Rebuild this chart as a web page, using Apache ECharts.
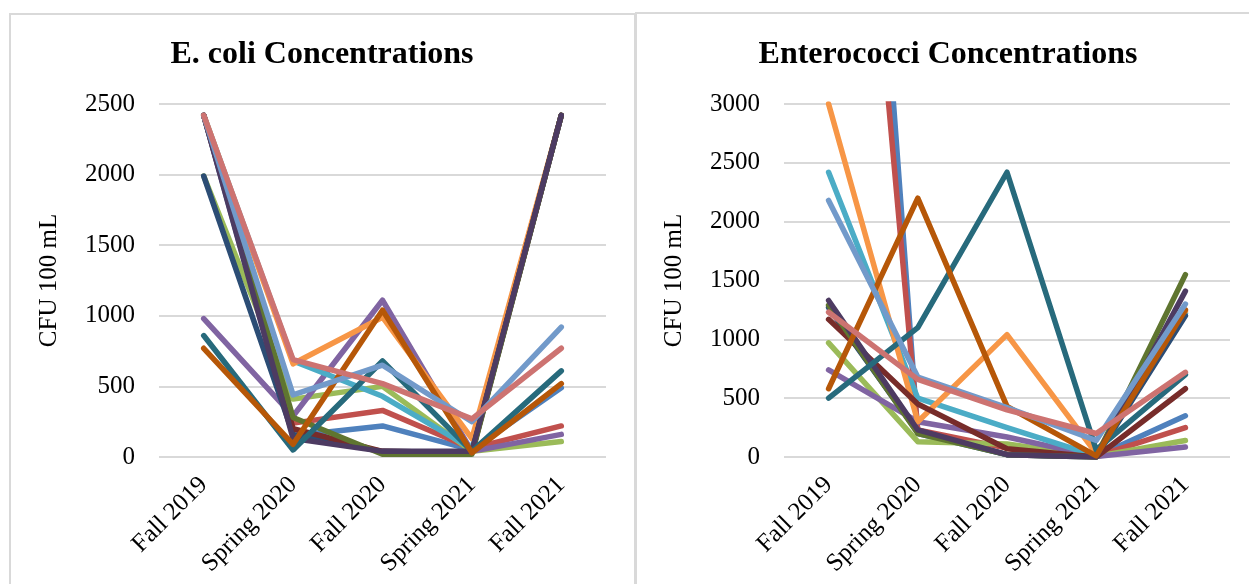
<!DOCTYPE html>
<html>
<head>
<meta charset="utf-8">
<script src="https://cdn.jsdelivr.net/npm/echarts@6/dist/echarts.min.js"></script>
<style>
html,body{margin:0;padding:0;background:#fff;}
#chart{width:1249px;height:584px;}
</style>
</head>
<body>
<div id="chart"></div>
<script>
const categories = ['Fall 2019', 'Spring 2020', 'Fall 2020', 'Spring 2021', 'Fall 2021'];
const seriesNames = ['S1','S2','S3','S4','S5','S6','S7','S8','S9','S10','S11','S12','S13','S14'];
const ecoliTicks = [0, 500, 1000, 1500, 2000, 2500];
const enteroTicks = [0, 500, 1000, 1500, 2000, 2500, 3000];

// E. coli (CFU/100 mL)
const ecoli1  = [2420, 150, 220, 50, 490];
const ecoli2  = [2420, 240, 330, 60, 220];
const ecoli3  = [1990, 410, 500, 40, 110];
const ecoli4  = [980, 290, 1110, 40, 160];
const ecoli5  = [2420, 680, 430, 60, 2420];
const ecoli6  = [2420, 660, 990, 130, 2420];
const ecoli7  = [1990, 160, 40, 30, 2420];
const ecoli8  = [2420, 200, 40, 30, 2420];
const ecoli9  = [2420, 280, 20, 20, 2420];
const ecoli10 = [2420, 130, 40, 40, 2420];
const ecoli11 = [860, 50, 680, 40, 610];
const ecoli12 = [770, 90, 1040, 30, 520];
const ecoli13 = [2420, 440, 650, 250, 920];
const ecoli14 = [2420, 690, 520, 270, 770];

// Enterococci (CFU/100 mL)
const entero1  = [10500, 200, 20, 5, 350];
const entero2  = [8700, 230, 75, 5, 250];
const entero3  = [970, 130, 110, 5, 140];
const entero4  = [740, 300, 170, 5, 85];
const entero5  = [2420, 500, 250, 10, 1220];
const entero6  = [3000, 300, 1040, 30, 1240];
const entero7  = [1270, 210, 20, 0, 1200];
const entero8  = [1170, 450, 70, 0, 580];
const entero9  = [1290, 200, 20, 0, 1550];
const entero10 = [1330, 230, 20, 0, 1410];
const entero11 = [500, 1100, 2420, 60, 700];
const entero12 = [580, 2200, 430, 10, 1250];
const entero13 = [2180, 680, 420, 140, 1300];
const entero14 = [1230, 660, 400, 200, 720];

const colors = ['#4F81BD','#C0504D','#9BBB59','#8064A2','#4BACC6','#F79646',
                '#2C4D75','#772C2A','#5F7530','#4D3B62','#276A7C','#B65708',
                '#729ACA','#CD7371'];

const ecoliData = [ecoli1,ecoli2,ecoli3,ecoli4,ecoli5,ecoli6,ecoli7,ecoli8,ecoli9,ecoli10,ecoli11,ecoli12,ecoli13,ecoli14];
const enteroData = [entero1,entero2,entero3,entero4,entero5,entero6,entero7,entero8,entero9,entero10,entero11,entero12,entero13,entero14];

const FONT = '"Liberation Serif", "Times New Roman", serif';
const GRIDC = '#d9d9d9';

function xAxisFor(gi) {
  return {
    type: 'category', gridIndex: gi, data: categories, boundaryGap: true,
    axisLine: {show: false}, axisTick: {show: false},
    axisLabel: {rotate: 45, margin: 24, color: '#000', fontFamily: FONT, fontSize: 25, interval: 0}
  };
}
function yAxisFor(gi, ticks) {
  return {
    type: 'value', gridIndex: gi, min: ticks[0], max: ticks[ticks.length-1], interval: ticks[1]-ticks[0],
    name: 'CFU 100 mL', nameLocation: 'middle', nameRotate: 90, nameGap: 97,
    nameTextStyle: {color: '#000', fontFamily: FONT, fontSize: 25},
    axisLine: {show: false}, axisTick: {show: false},
    axisLabel: {margin: 24, color: '#000', fontFamily: FONT, fontSize: 25, formatter: v => String(v)},
    splitLine: {show: true, lineStyle: {color: GRIDC, width: 2}}
  };
}
function makeSeries(dataList, gi) {
  return dataList.map((d, i) => ({
    type: 'line', name: seriesNames[i], xAxisIndex: gi, yAxisIndex: gi, data: d,
    showSymbol: false, symbol: 'none', clip: true, silent: true,
    lineStyle: {color: colors[i], width: 5.5, cap: 'round', join: 'round'},
    itemStyle: {color: colors[i]}
  }));
}

const chart = echarts.init(document.getElementById('chart'), null, {renderer: 'canvas'});
chart.setOption({
  animation: false,
  backgroundColor: '#fff',
  grid: [
    {left: 159, top: 104, width: 447, height: 353},
    {left: 784, top: 104, width: 446, height: 353}
  ],
  xAxis: [xAxisFor(0), xAxisFor(1)],
  yAxis: [yAxisFor(0, ecoliTicks), yAxisFor(1, enteroTicks)],
  series: makeSeries(ecoliData, 0).concat(makeSeries(enteroData, 1)),
  graphic: [
    {type: 'rect', shape: {x: 10, y: 14, width: 625, height: 600}, style: {fill: 'none', stroke: GRIDC, lineWidth: 2}, silent: true},
    {type: 'rect', shape: {x: 636, y: 13, width: 640, height: 600}, style: {fill: 'none', stroke: GRIDC, lineWidth: 2}, silent: true},
    {type: 'text', x: 322, y: 55, style: {text: 'E. coli Concentrations', x: 0, y: 0, textAlign: 'center', textVerticalAlign: 'middle', fill: '#000', font: 'bold 32px ' + FONT}, silent: true},
    {type: 'text', x: 948, y: 55, style: {text: 'Enterococci Concentrations', x: 0, y: 0, textAlign: 'center', textVerticalAlign: 'middle', fill: '#000', font: 'bold 32px ' + FONT}, silent: true}
  ]
});
</script>
</body>
</html>
